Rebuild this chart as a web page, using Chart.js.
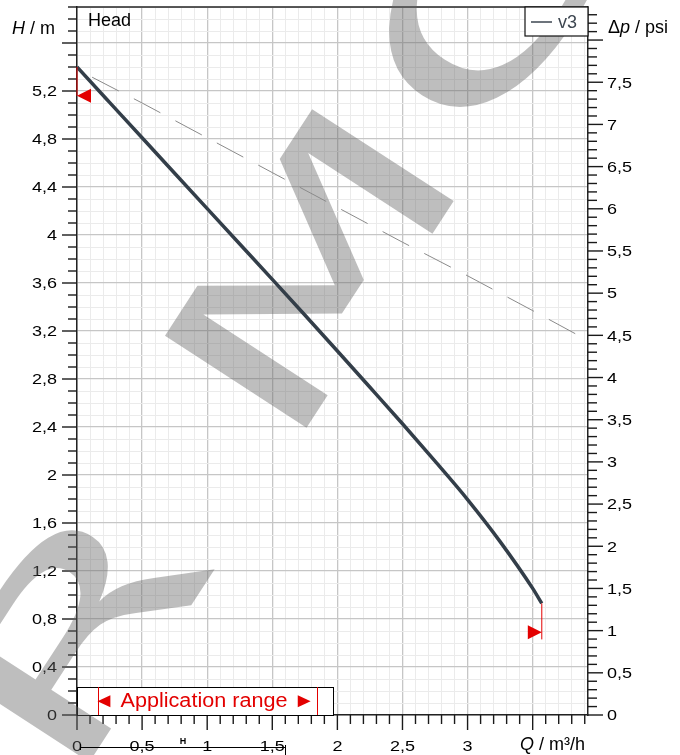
<!DOCTYPE html>
<html>
<head>
<meta charset="utf-8">
<script src="https://cdn.jsdelivr.net/npm/chart.js@4.4.0/dist/chart.umd.min.js"></script>
<style>
body{margin:0;background:#fff;}
#graf{display:block;}
</style>
</head>
<body>
<canvas id="graf" width="680" height="755"></canvas>
<script>
// curva v3: portata Q (m³/h) e prevalenza H (m)
var qV3=[0,0.25,0.5,0.75,1,1.25,1.5,1.75,2,2.25,2.5,2.75,3,3.25,3.5,3.57];
var hV3=[5.40,5.105,4.81,4.515,4.22,3.925,3.63,3.333,3.033,2.731,2.427,2.115,1.795,1.445,1.055,0.93];
// curva tratteggiata
var qTratt=[0,0.5,1,1.5,2,2.5,3,3.5,3.925];
var hTratt=[5.38,5.10,4.81,4.52,4.23,3.94,3.66,3.37,3.12];
// limiti rossi (inizio e fine curva)
var qLimiti=[0,3.57];
var hLimitiCurva=[5.40,0.93];
var hLimitiFreccia=[5.16,0.69];
var hLimitiFine=[5.16,0.63];
// etichette assi
var etichetteQ=[0,0.5,1,1.5,2,2.5,3];
var etichetteH=[0,0.4,0.8,1.2,1.6,2,2.4,2.8,3.2,3.6,4,4.4,4.8,5.2];
var etichettePsi=[0,0.5,1,1.5,2,2.5,3,3.5,4,4.5,5,5.5,6,6.5,7,7.5];
var maxQ=3.925, maxH=5.9;
var M_PER_PSI=0.70307;

var FONT="'Liberation Sans', Arial, sans-serif";
var STIRA=1.2; // le etichette dei tick sono piu' larghe
Chart.defaults.font.family=FONT;

function fmt(v){ return (Math.round(v*10)/10).toString().replace('.',','); }
function haEtichetta(lista,v){ return lista.some(function(e){return Math.abs(e-v)<1e-6;}); }
function maggiore(passo,v){ var k=v/passo; return Math.abs(k-Math.round(k))<1e-6; }
function decimi(scala){
    var t=[];
    for(var i=0;i*0.1<=scala.max+1e-9;i++) t.push({value:Math.round(i)/10});
    scala.ticks=t;
}
function blocca(dim){
    return function(s){
        if(s.isHorizontal()) s.height=dim; else s.width=dim;
        s.paddingTop=0; s.paddingBottom=0; s.paddingLeft=0; s.paddingRight=0;
    };
}

function tacche(ctx,scala,passo,lato,a){
    ctx.save();
    ctx.strokeStyle="#1a1a1a";
    ctx.lineWidth=1.4;
    scala.ticks.forEach(function(t){
        var p=scala.getPixelForValue(t.value);
        var l=maggiore(passo,t.value)?15:9;
        ctx.beginPath();
        if(lato=="sx"){ctx.moveTo(a.left-l,p);ctx.lineTo(a.left,p);}
        else if(lato=="dx"){ctx.moveTo(a.right,p);ctx.lineTo(a.right+l,p);}
        else{ctx.moveTo(p,a.bottom);ctx.lineTo(p,a.bottom+l);}
        ctx.stroke();
    });
    ctx.restore();
}

function etichette(ctx,scala,lista,lato,a){
    ctx.save();
    ctx.fillStyle="#000";
    ctx.font="15px "+FONT;
    ctx.textBaseline="alphabetic";
    scala.ticks.forEach(function(t){
        if(!haEtichetta(lista,t.value)) return;
        var s=fmt(t.value);
        var w=ctx.measureText(s).width*STIRA;
        var p=scala.getPixelForValue(t.value);
        var x0,y0;
        if(lato=="sx"){x0=a.left-20-w;y0=p+5.3;}
        else if(lato=="dx"){x0=a.right+19;y0=p+5.3;}
        else{x0=p-w/2;y0=a.bottom+36;}
        ctx.save();
        ctx.translate(x0,y0);
        ctx.scale(STIRA,1);
        ctx.fillText(s,0,0);
        ctx.restore();
    });
    ctx.restore();
}

function filigrana(ctx){
    ctx.save();
    ctx.textAlign="left";
    ctx.textBaseline="alphabetic";
    ctx.font="100px 'DejaVu Sans'";
    var mm=ctx.measureText("M");
    var dim=100*169/mm.actualBoundingBoxAscent;
    ctx.font=dim+"px 'DejaVu Sans'";
    mm=ctx.measureText("M");
    var mr=ctx.measureText("R"), mc=ctx.measureText("C");
    var sx=273/(mm.actualBoundingBoxLeft+mm.actualBoundingBoxRight);
    ctx.rotate(-57*Math.PI/180);
    ctx.scale(sx,1);
    ctx.fillStyle="rgba(100,100,100,0.42)";
    ctx.fillText("R",-359/sx-mr.actualBoundingBoxRight,490);
    ctx.fillText("M",-193/sx+mm.actualBoundingBoxLeft,490);
    ctx.fillText("C",150/sx+mc.actualBoundingBoxLeft,490);
    ctx.restore();
}

function testo(ctx,pezzi,x,y){
    // pezzi: [testo, corsivo]
    pezzi.forEach(function(p){
        ctx.font=(p[1]?"italic ":"")+"18px "+FONT;
        ctx.fillText(p[0],x,y);
        x+=ctx.measureText(p[0]).width;
    });
}

var decorazioni={
    id:"decorazioni",
    beforeDatasetsDraw:function(chart){
        var ctx=chart.ctx, a=chart.chartArea;
        ctx.save();
        // bordo superiore
        ctx.strokeStyle="#222";
        ctx.lineWidth=1.5;
        ctx.beginPath();ctx.moveTo(a.left,a.top);ctx.lineTo(a.right,a.top);ctx.stroke();
        tacche(ctx,chart.scales.y,0.4,"sx",a);
        tacche(ctx,chart.scales.y2,0.5,"dx",a);
        tacche(ctx,chart.scales.x,0.5,"giu",a);
        etichette(ctx,chart.scales.y,etichetteH,"sx",a);
        etichette(ctx,chart.scales.y2,etichettePsi,"dx",a);
        etichette(ctx,chart.scales.x,etichetteQ,"giu",a);
        // riquadro campo di applicazione
        var bx=a.left, by=a.bottom-28, bw=256, bh=28;
        ctx.fillStyle="#fff";
        ctx.fillRect(bx,by,bw,bh);
        ctx.strokeStyle="#000";
        ctx.lineWidth=1;
        ctx.strokeRect(bx+0.5,by+0.5,bw,bh);
        ctx.strokeStyle="#e30000";
        ctx.beginPath();
        ctx.moveTo(bx+21.5,by);ctx.lineTo(bx+21.5,a.bottom);
        ctx.moveTo(bx+240.5,by);ctx.lineTo(bx+240.5,a.bottom);
        ctx.stroke();
        ctx.fillStyle="#e30000";
        ctx.font="20px "+FONT;
        ctx.textAlign="center";
        ctx.textBaseline="middle";
        ctx.translate(bx+127,by+14);
        ctx.scale(1.08,1);
        ctx.fillText("\u25C4 Application range \u25BA",0,0);
        ctx.restore();
        filigrana(ctx);
    },
    afterDatasetsDraw:function(chart){
        var ctx=chart.ctx, a=chart.chartArea, x=chart.scales.x, y=chart.scales.y;
        ctx.save();
        // limiti rossi
        ctx.strokeStyle="#e30000";
        ctx.fillStyle="#e30000";
        ctx.lineWidth=1;
        for(var i=0;i<qLimiti.length;i++){
            var px=x.getPixelForValue(qLimiti[i]);
            ctx.beginPath();
            ctx.moveTo(px,y.getPixelForValue(hLimitiCurva[i]));
            ctx.lineTo(px,y.getPixelForValue(hLimitiFine[i]));
            ctx.stroke();
            var py=y.getPixelForValue(hLimitiFreccia[i]);
            var dir=(i==0)?1:-1;
            ctx.beginPath();
            ctx.moveTo(px,py);
            ctx.lineTo(px+dir*14,py-7);
            ctx.lineTo(px+dir*14,py+7);
            ctx.closePath();
            ctx.fill();
        }
        // legenda
        ctx.fillStyle="#fff";
        ctx.fillRect(a.right-63,a.top,63,29);
        ctx.strokeStyle="#111";
        ctx.lineWidth=1.2;
        ctx.strokeRect(a.right-63,a.top,63,29);
        ctx.strokeStyle="#3d4650";
        ctx.lineWidth=1.5;
        ctx.beginPath();ctx.moveTo(a.right-57,a.top+15);ctx.lineTo(a.right-36,a.top+15);ctx.stroke();
        ctx.fillStyle="#3d4650";
        ctx.font="18px "+FONT;
        ctx.textBaseline="alphabetic";
        ctx.fillText("v3",a.right-30,a.top+21);
        // titoli
        ctx.fillStyle="#000";
        ctx.fillText("Head",a.left+11,a.top+19);
        testo(ctx,[["H",true],[" / m",false]],12,34);
        testo(ctx,[["\u0394",false],["p",true],[" / psi",false]],608,33);
        testo(ctx,[["Q",true],[" / m\u00B3/h",false]],520,750);
        // quota H sotto l'asse
        ctx.strokeStyle="#000";
        ctx.lineWidth=1;
        ctx.beginPath();
        ctx.moveTo(80,747.5);ctx.lineTo(285,747.5);
        ctx.moveTo(285.5,745);ctx.lineTo(285.5,755);
        ctx.moveTo(80.5,744);ctx.lineTo(80.5,750);
        ctx.stroke();
        ctx.font="bold 9px "+FONT;
        ctx.textAlign="center";
        ctx.fillText("H",183,744);
        ctx.restore();
    }
};

function griglia(passo){
    return {
        drawTicks:false,
        color:function(c){return maggiore(passo,c.tick.value)?"#c6c6c6":"#ebebeb";},
        lineWidth:function(c){return maggiore(passo,c.tick.value)?1.3:1;}
    };
}

var grafico=new Chart("graf",{
    type:"line",
    data:{
        datasets:[{
            label:"v3",
            data:qV3.map(function(q,i){return {x:q,y:hV3[i]};}),
            borderColor:"#333e49",
            borderWidth:3.5,
            pointRadius:0,
            cubicInterpolationMode:"monotone",
            fill:false
        },{
            label:"tratteggio",
            data:qTratt.map(function(q,i){return {x:q,y:hTratt[i]};}),
            borderColor:"#8a8a8a",
            borderWidth:1,
            borderDash:[30,17],
            borderDashOffset:30,
            pointRadius:0,
            fill:false
        }]
    },
    options:{
        responsive:false,
        animation:false,
        layout:{padding:{top:7,left:0,right:0,bottom:0}},
        plugins:{legend:{display:false},tooltip:{enabled:false}},
        scales:{
            x:{
                type:"linear",position:"bottom",min:0,max:maxQ,
                afterBuildTicks:decimi,
                afterFit:blocca(40),
                ticks:{display:false,autoSkip:false},
                grid:griglia(0.5),
                border:{display:true,color:"#222",width:1.5}
            },
            y:{
                type:"linear",position:"left",min:0,max:maxH,
                afterBuildTicks:decimi,
                afterFit:blocca(77),
                ticks:{display:false,autoSkip:false},
                grid:griglia(0.4),
                border:{display:true,color:"#222",width:1.5}
            },
            y2:{
                type:"linear",position:"right",min:0,max:maxH/M_PER_PSI,
                afterBuildTicks:decimi,
                afterFit:blocca(92),
                ticks:{display:false,autoSkip:false},
                grid:{drawOnChartArea:false,drawTicks:false},
                border:{display:true,color:"#222",width:1.5}
            }
        }
    },
    plugins:[decorazioni]
});
</script>
</body>
</html>
